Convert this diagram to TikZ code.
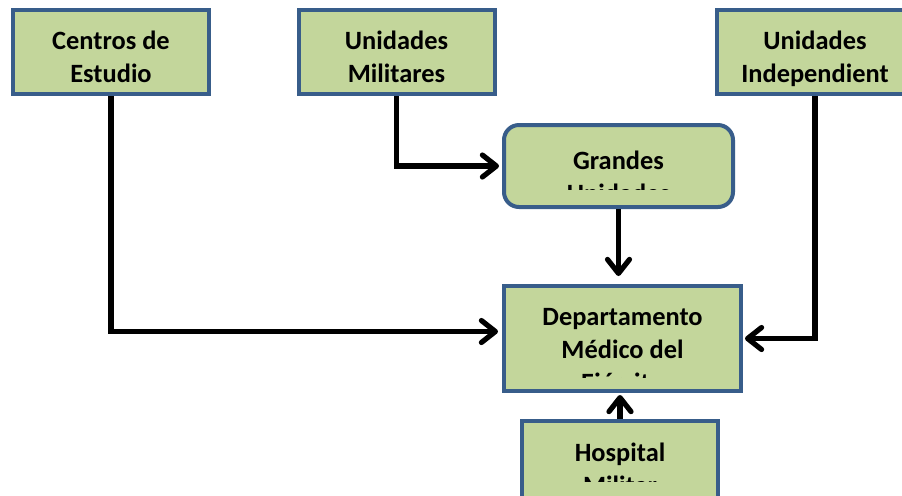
\documentclass[tikz,border=0pt]{standalone}
\usepackage{fontspec}
\setmainfont{Carlito}
\usetikzlibrary{arrows.meta}

\definecolor{boxgreen}{HTML}{C3D69B}
\definecolor{boxblue}{HTML}{385D8A}

\tikzstyle{box} = [draw=boxblue,fill=boxgreen,line width=2pt,inner sep=0pt,minimum width=98pt,minimum height=42pt]
\tikzstyle{boxlabel} = [draw=none,fill=none,rounded corners=0pt,minimum width=0pt,minimum height=0pt,
  anchor=north,inner sep=0pt,align=center,font=\bfseries\fontsize{13.2pt}{16.5pt}\selectfont]
\tikzstyle{arrow} = [line width=2.6pt,-{Straight Barb[length=7pt,width=11pt,round]}]

% text of a box, cut off at a given depth below its top
\tikzset{boxtext/.style n args={4}{path picture={
  \clip (path picture bounding box.north west) rectangle ([yshift=-#3]path picture bounding box.north east);
  \node[boxlabel] (#1) at ([yshift=-#2]path picture bounding box.north) {#4};}}}

\begin{document}
\begin{tikzpicture}[x=0.5pt,y=-0.5pt]
\useasboundingbox (0,0) rectangle (902,495);

% Top row
\node[box,boxtext={centros-t}{9.5pt}{42pt}{Centros de\\Estudio}] (centros) at (111,52) {};
\node[box,boxtext={militares-t}{9.5pt}{42pt}{Unidades\\Militares}] (militares) at (396.5,52) {};
\node[box,boxtext={indep-t}{9.5pt}{42pt}{Unidades\\Independient}] (indep) at (815,52) {};

% Middle
\node[box,rounded corners=7.5pt,minimum width=114.5pt,minimum height=41pt,
  boxtext={grandes-t}{12pt}{32pt}{Grandes\\Unidades}] (grandes) at (618.5,166) {};
\node[box,minimum width=118.5pt,minimum height=52.5pt,
  boxtext={depto-t}{10pt}{45.5pt}{Departamento\\Médico del\\Ejército}] (depto) at (622.5,338.5) {};

% Bottom
\node[box,boxtext={hospital-t}{10pt}{30pt}{Hospital\\Militar}] (hospital) at (620,463) {};

% Connectors
\draw[arrow,shorten >=2pt] (centros.south) |- ([yshift=3.5pt]depto.west);
\draw[arrow,shorten >=1.5pt] (militares.south) |- (grandes.west);
\draw[arrow,shorten >=4pt] (grandes.south) -- (grandes.south |- depto.north);
\draw[arrow,shorten >=1pt] (indep.south) |- (depto.east);
\draw[arrow,shorten >=1pt] (hospital.north) -- (hospital.north |- depto.south);

\end{tikzpicture}
\end{document}
